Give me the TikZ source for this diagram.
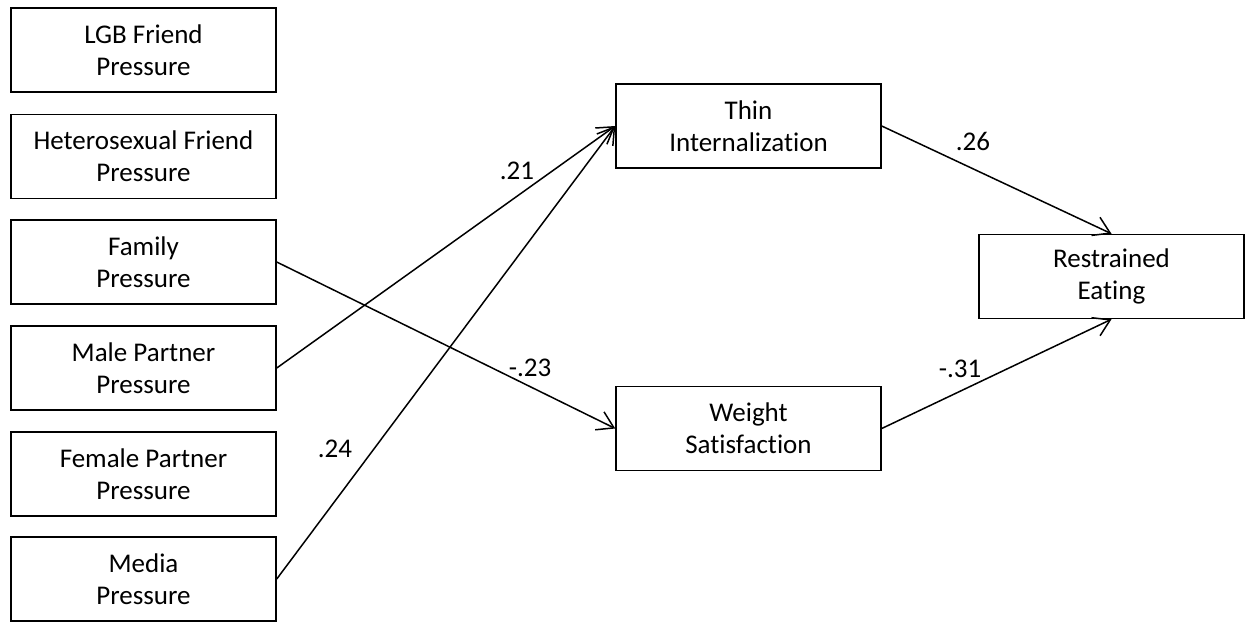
\documentclass[tikz,border=0pt]{standalone}
\usepackage{fontspec}
\setmainfont{Carlito}[Ligatures={NoCommon}]
\usetikzlibrary{arrows.meta}
\begin{document}
\begin{tikzpicture}[x=1pt,y=-1pt,
  box/.style={draw, line width=1.5pt, minimum width=265pt, minimum height=84pt, inner sep=0pt, align=center, font=\fontsize{27}{32}\selectfont},
  lbl/.style={inner sep=0pt, font=\fontsize{27}{32}\selectfont},
  conn/.style={line width=1.5pt, -{Straight Barb[length=16pt,width=20pt,line width=1.5pt]}}]
\useasboundingbox (0,0) rectangle (1248,622);
\node[box] (lgb) at (143.5,50) {LGB Friend\\Pressure};
\node[box] (het) at (143.5,156.5) {Heterosexual Friend\\Pressure};
\node[box] (fam) at (143.5,262) {Family\\Pressure};
\node[box] (male) at (143.5,368) {Male Partner\\Pressure};
\node[box] (female) at (143.5,474) {Female Partner\\Pressure};
\node[box] (media) at (143.5,579) {Media\\Pressure};
\node[box] (thin) at (748.5,126) {Thin\\Internalization};
\node[box] (weight) at (748.5,428.5) {Weight\\Satisfaction};
\node[box] (rest) at (1111.5,276.5) {Restrained\\Eating};
\draw[conn] (male.east) -- (thin.west);
\draw[conn] (media.east) -- (thin.west);
\draw[conn] (fam.east) -- (weight.west);
\draw[conn] (thin.east) -- (rest.north);
\draw[conn] (weight.east) -- (rest.south);
\node[lbl] (l21) at (517,171) {.21};
\node[lbl] (l24) at (335,449) {.24};
\node[lbl] (l23) at (530,368) {-.23};
\node[lbl] (l26) at (973,141) {.26};
\node[lbl] (l31) at (960,369) {-.31};
\end{tikzpicture}
\end{document}
